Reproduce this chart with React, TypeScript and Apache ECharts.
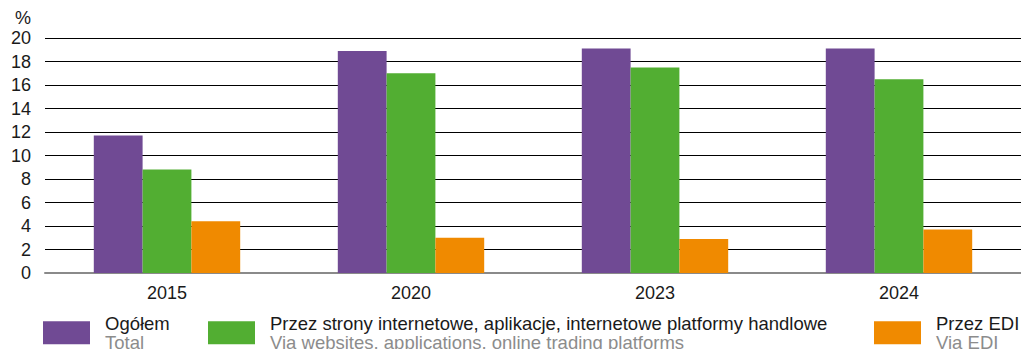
import React, { useEffect, useRef } from "react";
import * as echarts from "echarts";

const categories = ["2015", "2020", "2023", "2024"];
const seriesNames = ["Ogółem", "Przez strony internetowe, aplikacje, internetowe platformy handlowe", "Przez EDI"];
const seriesNamesEn = ["Total", "Via websites, applications, online trading platforms", "Via EDI"];
const totalValues = [11.7, 18.9, 19.1, 19.1];
const webValues = [8.8, 17.0, 17.5, 16.5];
const ediValues = [4.4, 3.0, 2.9, 3.7];
const colors = ["#704A94", "#52AE32", "#F08A00"];
const legendLeft = [43, 208, 874];

const FONT = "'Liberation Sans', Arial, sans-serif";

export default function App() {
  const ref = useRef<HTMLDivElement>(null);
  useEffect(() => {
    if (!ref.current) return;
    const chart = echarts.init(ref.current, null, { renderer: "svg" });
    const values = [totalValues, webValues, ediValues];
    chart.setOption({
      animation: false,
      textStyle: { fontFamily: FONT },
      grid: { left: 45, right: -1, top: 38, bottom: 76 },
      xAxis: {
        type: "category",
        data: categories,
        axisTick: { show: false },
        axisLine: { show: true, lineStyle: { color: "#8a8a8a", width: 2 } },
        axisLabel: { color: "#1a1a1a", fontSize: 18, margin: 11, fontFamily: FONT },
      },
      yAxis: {
        type: "value",
        min: 0,
        max: 20,
        interval: 2,
        name: "%",
        nameLocation: "end",
        nameGap: 11,
        nameTextStyle: { color: "#1a1a1a", fontSize: 18, align: "right", padding: [0, 14, 0, 0], fontFamily: FONT },
        axisLine: { show: false },
        axisTick: { show: false },
        axisLabel: { color: "#1a1a1a", fontSize: 18, margin: 14, fontFamily: FONT },
        splitLine: { lineStyle: { color: "#000", width: 1 } },
      },
      legend: seriesNames.map((n, i) => ({
        data: [n],
        left: legendLeft[i],
        top: 314,
        padding: 0,
        itemWidth: 47,
        itemHeight: 23,
        icon: "rect",
        selectedMode: false,
        formatter: () => `{a|${n}}\n{b|${seriesNamesEn[i]}}`,
        textStyle: {
          fontFamily: FONT,
          rich: {
            a: { fontSize: 18.5, color: "#1a1a1a", lineHeight: 18.5, padding: [0, 0, 0, 10], fontFamily: FONT },
            b: { fontSize: 18.5, color: "#8c8c8c", lineHeight: 18.5, padding: [0, 0, 0, 10], fontFamily: FONT },
          },
        },
      })),
      series: seriesNames.map((n, i) => ({
        type: "bar",
        name: n,
        data: values[i],
        itemStyle: { color: colors[i] },
        barGap: "0%",
        barCategoryGap: "40%",
        z: 3,
      })),
    });
    return () => chart.dispose();
  }, []);
  return (
    <div
      ref={ref}
      style={{ position: "absolute", left: 0, top: 0, width: 1021, height: 349, background: "#fff" }}
    />
  );
}
